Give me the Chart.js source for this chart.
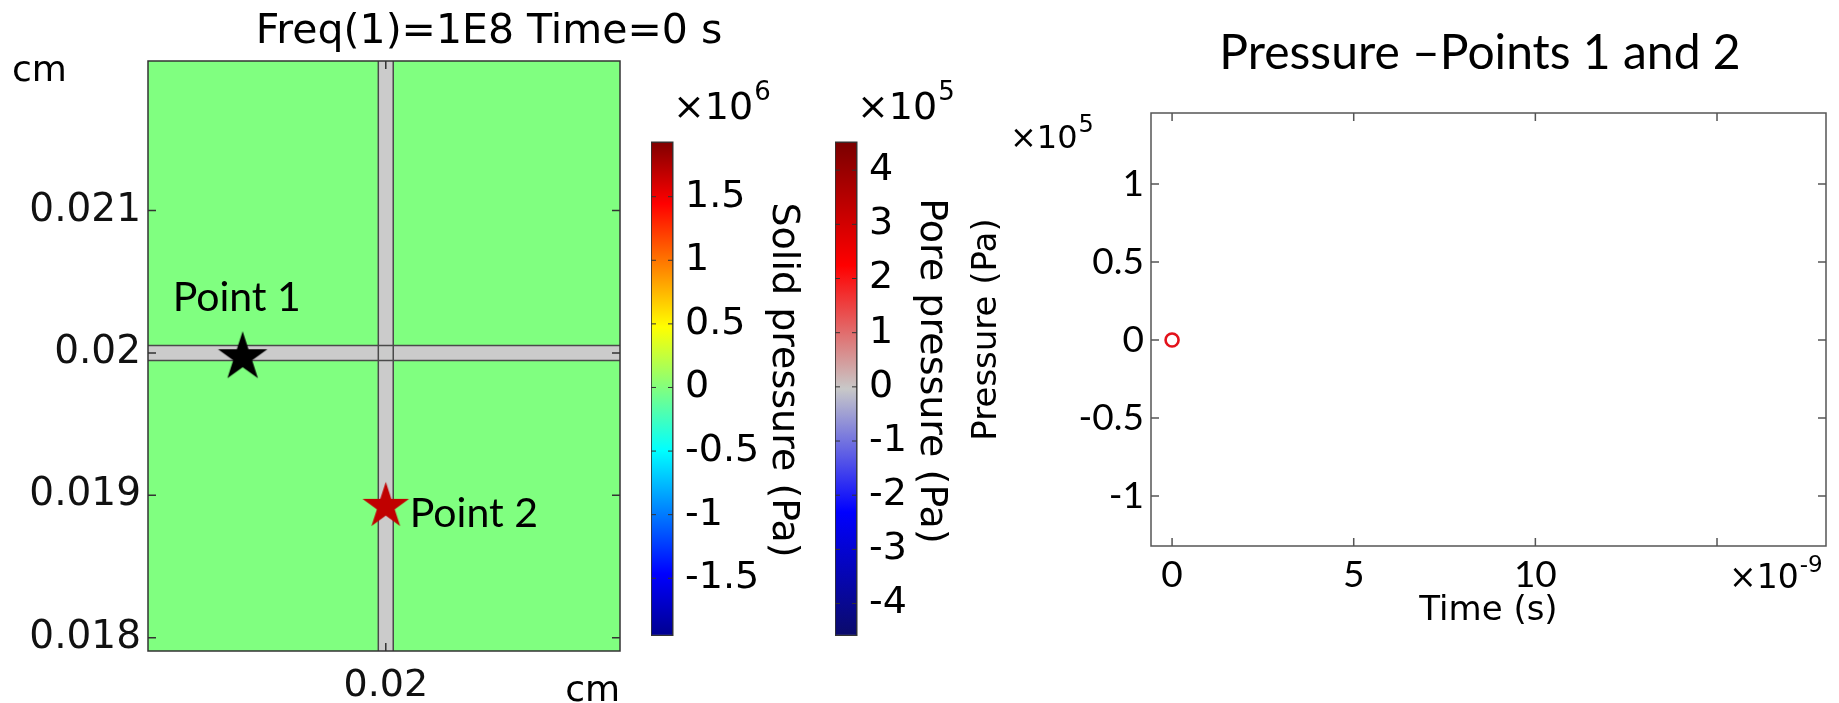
<!DOCTYPE html>
<html>
<head>
<meta charset="utf-8">
<title>Pressure - Points 1 and 2</title>
<script src="https://cdn.jsdelivr.net/npm/chart.js@4.4.1/dist/chart.umd.min.js"></script>
<style>
  html, body { margin: 0; padding: 0; background: #fff; }
  #wrap { position: relative; width: 1839px; height: 703px; overflow: hidden; }
  canvas { position: absolute; top: 0; }
</style>
</head>
<body>
<div id="wrap">
  <canvas id="map" width="760" height="703" style="left:0"></canvas>
  <canvas id="solid" width="155" height="703" style="left:651px"></canvas>
  <canvas id="pore" width="119" height="703" style="left:835px"></canvas>
  <canvas id="trend" width="879" height="703" style="left:960px"></canvas>
</div>
<script>
/* =========================
   DATA
========================= */
// map view (cm)
const mapXTicks = [0.02];
const mapYTicks = [0.018, 0.019, 0.02, 0.021];
const mapXRange = [0.018329, 0.021646];
const mapYRange = [0.017907, 0.02205];
const stripX = [0.02];          // vertical gap centre
const stripY = [0.02];          // horizontal gap centre
const stripHalf = 0.0000525;    // half width of the gaps
const pointNames = ["Point 1", "Point 2"];
const pointX = [0.018994, 0.02];
const pointY = [0.01997, 0.018923];

// colour bars
const solidRange = [-1.95, 1.93];
const solidTicks = [-1.5, -1, -0.5, 0, 0.5, 1, 1.5];
const poreRange = [-4.59, 4.52];
const poreTicks = [-4, -3, -2, -1, 0, 1, 2, 3, 4];

// time plot (x in 1e-9 s, y in 1e5 Pa)
const times = [0];
const pressure = [0];
const timeTicks = [0, 5, 10, 15];
const pressureTicks = [-1, -0.5, 0, 0.5, 1];
const timeRange = [-0.58, 18.0];
const pressureRange = [-1.32, 1.455];

/* =========================
   STYLE
========================= */
const DEJAVU = "DejaVu Sans";
const CALIBRI = "Lato";
Chart.defaults.font.family = DEJAVU;
Chart.defaults.color = "#000";

const jetStops = [[0, "#00008f"], [0.125, "#0000ff"], [0.375, "#00ffff"], [0.5, "#80ff80"],
                  [0.625, "#ffff00"], [0.875, "#ff0000"], [1, "#800000"]];
const waveStops = [[0, "#0b0b6a"], [0.25, "#0000ff"], [0.5, "#c8c8c8"], [0.75, "#ff0000"], [1, "#7a0000"]];
const pointColors = ["#000000", "#c00000"];
const starSizes = [26, 24.5];
const labelOffsets = [[-70, -46], [24, 21]];

/* =========================
   HELPERS
========================= */
function tickList(arr) {
  return s => { s.ticks = arr.map(v => ({ value: v })); };
}

function starImage(color, r) {
  const c = document.createElement("canvas");
  c.width = c.height = Math.ceil(2 * r + 2);
  const g = c.getContext("2d");
  const cx = c.width / 2, cy = c.height / 2;
  g.beginPath();
  for (let i = 0; i < 10; i++) {
    const rad = i % 2 ? r * 0.382 : r;
    const a = -Math.PI / 2 + i * Math.PI / 5;
    g.lineTo(cx + rad * Math.cos(a), cy + rad * Math.sin(a));
  }
  g.closePath();
  g.fillStyle = color;
  g.fill();
  return c;
}

function gradient(stops) {
  return ctx => {
    const a = ctx.chart.chartArea;
    if (!a) return null;
    const g = ctx.chart.ctx.createLinearGradient(0, a.bottom, 0, a.top);
    stops.forEach(([p, c]) => g.addColorStop(p, c));
    return g;
  };
}

function sci(ctx, base, exp, x, y, size, expSize, rise) {
  ctx.font = `${size}px "${DEJAVU}"`;
  ctx.textAlign = "left";
  ctx.textBaseline = "alphabetic";
  ctx.fillStyle = "#000";
  ctx.fillText(base, x, y);
  const w = ctx.measureText(base).width;
  ctx.font = `${expSize}px "${DEJAVU}"`;
  ctx.fillText(exp, x + w + 1, y - rise);
}

function rotated(ctx, text, x, y, size, angle) {
  ctx.save();
  ctx.translate(x, y);
  ctx.rotate(angle);
  ctx.font = `${size}px "${DEJAVU}"`;
  ctx.textAlign = "center";
  ctx.textBaseline = "middle";
  ctx.fillStyle = "#000";
  ctx.fillText(text, 0, 0);
  ctx.restore();
}

// box round the plot area + ticks pointing inwards
const frameTicks = {
  id: "frameTicks",
  afterDraw(chart, args, o) {
    const { ctx, chartArea: a, scales } = chart;
    ctx.save();
    ctx.strokeStyle = o.color;
    ctx.lineWidth = o.width;
    ctx.beginPath();
    if (o.xTicks) {
      scales.x.ticks.forEach(t => {
        const px = scales.x.getPixelForValue(t.value);
        ctx.moveTo(px, a.bottom); ctx.lineTo(px, a.bottom - o.len);
        ctx.moveTo(px, a.top); ctx.lineTo(px, a.top + o.len);
      });
    }
    scales.y.ticks.forEach(t => {
      const py = scales.y.getPixelForValue(t.value);
      ctx.moveTo(a.left, py); ctx.lineTo(a.left + o.len, py);
      ctx.moveTo(a.right, py); ctx.lineTo(a.right - o.len, py);
    });
    ctx.stroke();
    ctx.strokeRect(a.left, a.top, a.right - a.left, a.bottom - a.top);
    ctx.restore();
  }
};

const texts = {
  id: "texts",
  afterDraw(chart, args, o) {
    if (o.draw) o.draw(chart.ctx, chart);
  }
};

/* =========================
   MAP
========================= */
const mapField = {
  id: "mapField",
  beforeDatasetsDraw(chart) {
    const { ctx, chartArea: a, scales: { x, y } } = chart;
    ctx.save();
    ctx.fillStyle = "#80ff80";
    ctx.fillRect(a.left, a.top, a.right - a.left, a.bottom - a.top);
    ctx.fillStyle = "#cbcbcb";
    const hs = stripY.map(v => [y.getPixelForValue(v + stripHalf), y.getPixelForValue(v - stripHalf)]);
    const vs = stripX.map(v => [x.getPixelForValue(v - stripHalf), x.getPixelForValue(v + stripHalf)]);
    hs.forEach(([t, b]) => ctx.fillRect(a.left, t, a.right - a.left, b - t));
    vs.forEach(([l, r]) => ctx.fillRect(l, a.top, r - l, a.bottom - a.top));
    ctx.strokeStyle = "#4a4a4a";
    ctx.lineWidth = 1.5;
    ctx.beginPath();
    hs.forEach(([t, b]) => { ctx.moveTo(a.left, t); ctx.lineTo(a.right, t); ctx.moveTo(a.left, b); ctx.lineTo(a.right, b); });
    vs.forEach(([l, r]) => { ctx.moveTo(l, a.top); ctx.lineTo(l, a.bottom); ctx.moveTo(r, a.top); ctx.lineTo(r, a.bottom); });
    ctx.stroke();
    ctx.restore();
  },
  afterDatasetsDraw(chart) {
    const ctx = chart.ctx;
    ctx.save();
    ctx.font = `41px "${CALIBRI}"`;
    ctx.fillStyle = "#000";
    ctx.textAlign = "left";
    ctx.textBaseline = "alphabetic";
    pointNames.forEach((name, i) => {
      const el = chart.getDatasetMeta(i).data[0];
      ctx.fillText(name, el.x + labelOffsets[i][0], el.y + labelOffsets[i][1]);
    });
    ctx.restore();
  }
};

new Chart(document.getElementById("map"), {
  type: "scatter",
  data: {
    datasets: pointNames.map((name, i) => ({
      label: name,
      data: [{ x: pointX[i], y: pointY[i] }],
      pointStyle: starImage(pointColors[i], starSizes[i]),
      pointRadius: starSizes[i]
    }))
  },
  options: {
    responsive: false,
    animation: false,
    events: [],
    layout: { padding: { top: 61, right: 140, bottom: 0, left: 0 } },
    plugins: {
      legend: { display: false },
      tooltip: { enabled: false },
      frameTicks: { color: "#333", width: 1.5, len: 8, xTicks: true },
      texts: {
        draw(ctx) {
          ctx.save();
          ctx.fillStyle = "#000";
          ctx.font = `41px "${DEJAVU}"`;
          ctx.textAlign = "center";
          ctx.fillText("Freq(1)=1E8 Time=0 s", 489, 43);
          ctx.font = `36px "${DEJAVU}"`;
          ctx.textAlign = "left";
          ctx.fillText("cm", 12, 81);
          ctx.textAlign = "right";
          ctx.fillText("cm", 620, 701);
          ctx.restore();
        }
      }
    },
    scales: {
      x: {
        type: "linear",
        min: mapXRange[0], max: mapXRange[1],
        afterBuildTicks: tickList(mapXTicks),
        afterFit: s => { s.height = 52; },
        grid: { display: false, drawTicks: false, tickLength: 0 },
        border: { display: false },
        ticks: { font: { size: 38 }, color: "#111", padding: 12, maxRotation: 0, autoSkip: false, callback: v => String(v) }
      },
      y: {
        type: "linear",
        min: mapYRange[0], max: mapYRange[1],
        afterBuildTicks: tickList(mapYTicks),
        afterFit: s => { s.width = 148; },
        grid: { display: false, drawTicks: false, tickLength: 0 },
        border: { display: false },
        ticks: { font: { size: 39 }, color: "#111", padding: 7, autoSkip: false, callback: v => String(v) }
      }
    }
  },
  plugins: [mapField, frameTicks, texts]
});

/* =========================
   COLOUR BARS
========================= */
function colorBar(id, range, ticks, stops, axisWidth, exp, title, titleX, titleY) {
  new Chart(document.getElementById(id), {
    type: "bar",
    data: {
      labels: [""],
      datasets: [{
        data: [range],
        backgroundColor: gradient(stops),
        borderColor: "#333",
        borderWidth: 1,
        borderSkipped: false,
        barPercentage: 1,
        categoryPercentage: 1
      }]
    },
    options: {
      responsive: false,
      animation: false,
      events: [],
      layout: { padding: { top: 142, bottom: 67.5, left: 0, right: 0 } },
      plugins: {
        legend: { display: false },
        tooltip: { enabled: false },
        frameTicks: { color: "#333", width: 1, len: 5, xTicks: false },
        texts: {
          draw(ctx) {
            sci(ctx, "\u00d710", exp, 22, 119, 38, 26, 19);
            rotated(ctx, title, titleX, titleY, 38, Math.PI / 2);
          }
        }
      },
      scales: {
        x: { display: false },
        y: {
          position: "right",
          min: range[0], max: range[1],
          afterBuildTicks: tickList(ticks),
          afterFit: s => { s.width = axisWidth; },
          grid: { display: false, drawTicks: false, tickLength: 0 },
          border: { display: false },
          ticks: { font: { size: 38 }, color: "#000", padding: 12, autoSkip: false, callback: v => String(v) }
        }
      }
    },
    plugins: [frameTicks, texts]
  });
}

colorBar("solid", solidRange, solidTicks, jetStops, 133, "6", "Solid pressure (Pa)", 132, 380);
colorBar("pore", poreRange, poreTicks, waveStops, 97, "5", "Pore pressure (Pa)", 96, 371);

/* =========================
   TIME PLOT
========================= */
new Chart(document.getElementById("trend"), {
  type: "scatter",
  data: {
    datasets: [{
      label: "Pressure",
      data: times.map((t, i) => ({ x: t, y: pressure[i] })),
      pointStyle: "circle",
      pointRadius: 6.5,
      borderWidth: 2.6,
      borderColor: "#e3121b",
      backgroundColor: "rgba(0,0,0,0)"
    }]
  },
  options: {
    responsive: false,
    animation: false,
    events: [],
    layout: { padding: { top: 113, right: 13, bottom: 71, left: 0 } },
    plugins: {
      legend: { display: false },
      tooltip: { enabled: false },
      frameTicks: { color: "#555", width: 1.5, len: 8, xTicks: true },
      texts: {
        draw(ctx) {
          ctx.save();
          ctx.fillStyle = "#000";
          ctx.font = `48px "${CALIBRI}"`;
          ctx.textAlign = "center";
          ctx.fillText("Pressure \u2013Points 1 and 2", 520, 69);
          ctx.restore();
          sci(ctx, "\u00d710", "5", 50, 148, 32, 24, 16);
          sci(ctx, "\u00d710", "-9", 769, 588, 33, 23, 16);
        }
      }
    },
    scales: {
      x: {
        type: "linear",
        min: timeRange[0], max: timeRange[1],
        afterBuildTicks: tickList(timeTicks),
        afterFit: s => { s.height = 86; },
        grid: { display: false, drawTicks: false, tickLength: 0 },
        border: { display: false },
        ticks: { font: { family: CALIBRI, size: 37 }, color: "#000", padding: 7, maxRotation: 0, autoSkip: false,
                 callback: v => (v === 15 ? "" : String(v)) },
        title: { display: true, text: "Time (s)", font: { size: 34 }, color: "#000", padding: { top: 0, bottom: 0 } }
      },
      y: {
        type: "linear",
        min: pressureRange[0], max: pressureRange[1],
        afterBuildTicks: tickList(pressureTicks),
        afterFit: s => { s.width = 191; },
        grid: { display: false, drawTicks: false, tickLength: 0 },
        border: { display: false },
        ticks: { font: { family: CALIBRI, size: 37 }, color: "#000", padding: 7, autoSkip: false, callback: v => String(v) },
        title: { display: true, text: "Pressure (Pa)", font: { size: 34 }, color: "#000", padding: { top: 7, bottom: 0 } }
      }
    }
  },
  plugins: [frameTicks, texts]
});
</script>
</body>
</html>
